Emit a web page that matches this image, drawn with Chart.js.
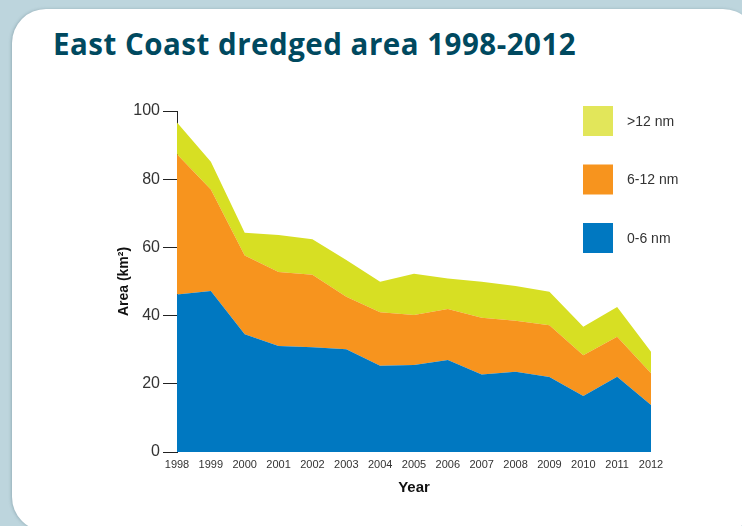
<!DOCTYPE html>
<html>
<head>
<meta charset="utf-8">
<script src="https://cdn.jsdelivr.net/npm/chart.js@4"></script>
<style>
  html, body { margin: 0; padding: 0; }
  body {
    width: 742px; height: 526px; overflow: hidden;
    background: #bdd5dd; position: relative;
  }
  .card {
    position: absolute; left: 12px; top: 9px; width: 745px; height: 522px;
    background: #fff; border-radius: 34px;
    box-shadow: -1px 0 3px rgba(80, 110, 120, 0.35);
  }
  h1 {
    position: absolute; left: 53px; top: 29px; margin: 0;
    font-family: 'Open Sans', sans-serif; font-weight: 700; font-size: 29.5px;
    line-height: 30px; color: #00495f; letter-spacing: 0.5px; white-space: nowrap;
  }
  #chart-wrap { position: absolute; left: 0; top: 0; width: 742px; height: 526px; }
</style>
</head>
<body>
<div class="card"></div>
<h1>East Coast dredged area 1998-2012</h1>
<div id="chart-wrap"><canvas id="js-area-chart"></canvas></div>
<script>
// Years and dredged area (km²) by distance band
const years = ['1998', '1999', '2000', '2001', '2002', '2003', '2004', '2005',
  '2006', '2007', '2008', '2009', '2010', '2011', '2012'];
const inshore = [46.2, 47.2, 34.5, 31.1, 30.7, 30.1, 25.3, 25.5, 27.0, 22.7, 23.5, 22.0, 16.4, 22.1, 13.8];
const midshore = [41.1, 29.8, 23.1, 21.7, 21.3, 15.4, 15.7, 14.7, 14.9, 16.7, 15.0, 15.2, 12.0, 11.7, 9.3];
const offshore = [9.3, 8.1, 6.7, 10.8, 10.4, 10.8, 8.9, 12.1, 9.0, 10.5, 10.2, 9.8, 8.3, 8.7, 6.3];
const yTicks = [0, 20, 40, 60, 80, 100];

const narrow = "'Liberation Sans Narrow', 'Arial Narrow', 'Liberation Sans', Arial, sans-serif";

// Legend boxes drawn top-right, inside the plot
const sideLegend = {
  id: 'sideLegend',
  afterDraw(chart) {
    const ctx = chart.ctx;
    const items = [
      { text: '>12 nm', color: '#e2e65a' },
      { text: '6-12 nm', color: '#f7941e' },
      { text: '0-6 nm', color: '#0078c1' },
    ];
    ctx.save();
    ctx.font = '14px ' + narrow;
    ctx.textBaseline = 'middle';
    items.forEach((item, i) => {
      const y = 106 + i * 58.5;
      ctx.fillStyle = item.color;
      ctx.fillRect(583, y, 30, 30);
      ctx.fillStyle = '#333';
      ctx.fillText(item.text, 627, y + 16);
    });
    ctx.restore();
  },
};

const areaCtx = document.getElementById('js-area-chart').getContext('2d');

new Chart(areaCtx, {
  type: 'line',
  data: {
    labels: years,
    datasets: [
      { label: '0-6 nm', data: inshore, backgroundColor: '#0078c1', fill: 'origin' },
      { label: '6-12 nm', data: midshore, backgroundColor: '#f7941e', fill: '-1' },
      { label: '>12 nm', data: offshore, backgroundColor: '#d7df23', fill: '-1' },
    ],
  },
  options: {
    responsive: true,
    maintainAspectRatio: false,
    animation: false,
    elements: {
      line: { borderWidth: 0, tension: 0 },
      point: { radius: 0 },
    },
    layout: { padding: { left: 112, top: 111, right: 91, bottom: 25 } },
    plugins: {
      legend: { display: false },
      tooltip: { enabled: false },
    },
    scales: {
      x: {
        offset: false,
        grid: { display: false, drawTicks: false },
        border: { display: false },
        ticks: {
          color: '#333', padding: 6, maxRotation: 0, autoSkip: false,
          font: { family: narrow, size: 11 },
        },
        title: {
          display: true, text: 'Year', color: '#111', padding: { top: 4, bottom: 4 },
          font: { family: narrow, size: 15, weight: 'bold' },
        },
        afterFit(scale) { scale.height = 49; },
      },
      y: {
        stacked: true,
        min: 0,
        max: 100,
        afterBuildTicks(scale) { scale.ticks = yTicks.map(v => ({ value: v })); },
        grid: { drawOnChartArea: false, drawTicks: true, tickLength: 14, color: '#222', lineWidth: 1 },
        border: { display: true, color: '#222', width: 1 },
        ticks: {
          color: '#333', padding: 3,
          font: { family: narrow, size: 16 },
        },
        title: {
          display: true, text: 'Area (km²)', color: '#111',
          font: { family: narrow, size: 14, weight: 'bold' },
        },
        afterFit(scale) { scale.width = 65; },
      },
    },
  },
  plugins: [sideLegend],
});
</script>
</body>
</html>
